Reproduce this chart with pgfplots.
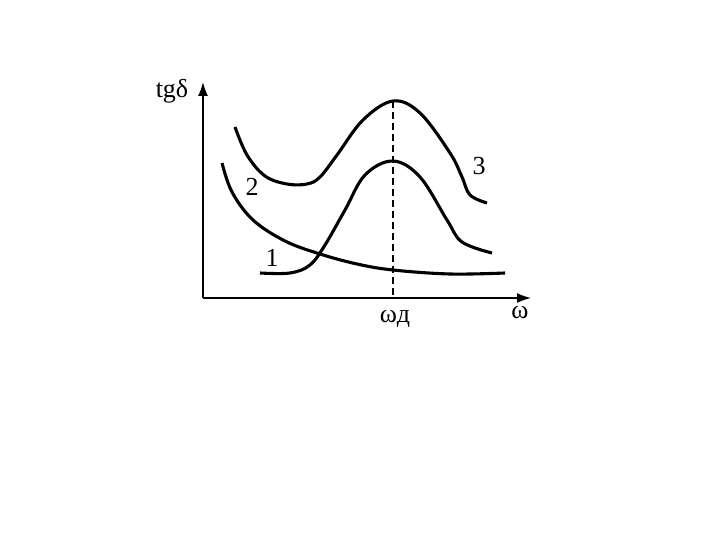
\documentclass[border=0pt]{standalone}
\usepackage{fontspec}
\setmainfont{Liberation Serif}
\usepackage{pgfplots}
\pgfplotsset{compat=1.18}
\usetikzlibrary{arrows.meta}
\begin{document}
\begin{tikzpicture}[lbl/.style={font=\fontsize{26}{28}\selectfont}]
\begin{axis}[
    width=720pt, height=540pt,
    scale only axis,
    xmin=0, xmax=720,
    ymin=0, ymax=540,
    y dir=reverse,
    hide axis,
    clip=false,
    every axis plot/.append style={no markers},
]
% full page area (white space of the slide)
\path[draw=none] (axis cs:0,0) rectangle (axis cs:720,540);
% axes with arrows
\addplot[black, line width=1.5pt, -{Latex[length=14pt,width=10pt]}] coordinates {(203,298) (203,82)};
\addplot[black, line width=1.5pt, -{Latex[length=14pt,width=10pt]}] coordinates {(203,298) (531,298)};
% dashed line at omega_d
\addplot[black, line width=1.1pt, dash pattern=on 7pt off 4pt] coordinates {(393,101) (393,298)};
% curve 3
\addplot[black, line width=3.1pt, smooth, tension=0.6] coordinates {
    (235,127) (247,155) (265,176) (287,184) (307,184) (320,177)
    (337,155) (363,120) (393,101) (420,113) (450,153) (462,177)
    (470,195) (487,203)};
% curve 1
\addplot[black, line width=3.1pt, smooth, tension=0.6] coordinates {
    (260,273) (290,273) (310,265) (325,245) (345,210) (365,175)
    (393,161) (420,177) (447,220) (462,242) (492,253)};
% curve 2
\addplot[black, line width=3.1pt, smooth, tension=0.6] coordinates {
    (222,163) (232,192) (253,220) (285,241) (320,254) (357,264)
    (393,270) (450,274) (505,273)};
\node[lbl] at (axis cs:172,91) {tgδ};
\node[lbl] at (axis cs:479,166) {3};
\node[lbl] at (axis cs:252,187) {2};
\node[lbl] at (axis cs:272,258) {1};
\node[lbl] at (axis cs:520,313) {ω};
\node[lbl] at (axis cs:395,319) {ωд};
\end{axis}
\end{tikzpicture}
\end{document}
